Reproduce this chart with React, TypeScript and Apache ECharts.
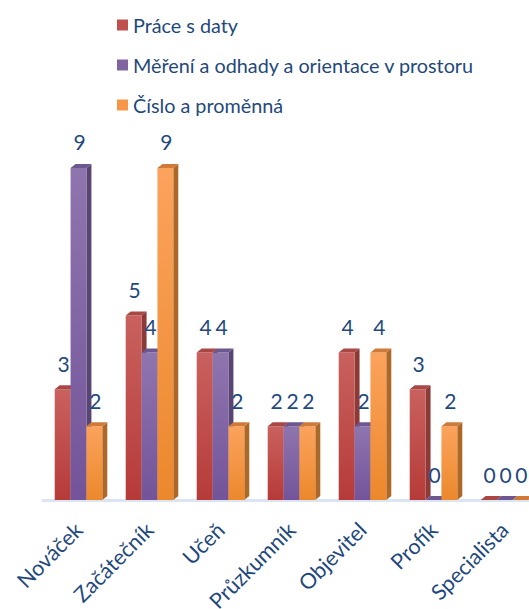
import React, { useEffect, useRef } from "react";
import * as echarts from "echarts";

const categories = ["Nováček", "Začátečník", "Učeň", "Průzkumník", "Objevitel", "Profík", "Specialista"];
const seriesNames = ["Práce s daty", "Měření a odhady a orientace v prostoru", "Číslo a proměnná"];
const praceSDaty = [3, 5, 4, 2, 4, 3, 0];
const mereni = [9, 4, 4, 2, 2, 0, 0];
const cisloAPromenna = [2, 9, 2, 2, 4, 2, 0];

const palette = [
  { top: "#c9615e", bottom: "#b63b38", side: "#8c3a37", cap: "#a84744", legend: "#c0504d" },
  { top: "#8f75ae", bottom: "#73549a", side: "#594574", cap: "#6d5790", legend: "#8064a2" },
  { top: "#fba35d", bottom: "#ec882c", side: "#ad6828", cap: "#cf7a38", legend: "#f79646" },
];

const TEXT = "#1f497d";
const FONT = "Lato, 'Open Sans', sans-serif";

export default function App() {
  const ref = useRef<HTMLDivElement>(null);
  useEffect(() => {
    if (!ref.current) return;
    const chart = echarts.init(ref.current, null, { renderer: "svg" });
    const all = [praceSDaty, mereni, cisloAPromenna];
    const dx = 5;
    const dy = 4;
    const makeSeries = (idx: number) => ({
      type: "custom",
      name: seriesNames[idx],
      itemStyle: { color: palette[idx].legend },
      encode: { x: 0, y: 1 },
      data: all[idx].map((v, i) => [i, v]),
      renderItem: (params: any, api: any) => {
        const c = api.value(0);
        const v = api.value(1);
        const base = api.coord([c, 0]);
        const top = api.coord([c, v]);
        const band = api.size([1, 0])[0];
        const barW = (band * 0.67) / 3;
        const x0 = base[0] - 1.5 * barW + idx * barW;
        const x1 = x0 + barW;
        const p = palette[idx];
        return {
          type: "group",
          children: [
            {
              type: "polygon",
              shape: {
                points: [
                  [x1, top[1]],
                  [x1 + dx, top[1] - dy],
                  [x1 + dx, base[1] - dy],
                  [x1, base[1]],
                ],
              },
              style: { fill: p.side },
            },
            {
              type: "rect",
              shape: { x: x0, y: top[1], width: barW, height: base[1] - top[1] },
              style: {
                fill: new echarts.graphic.LinearGradient(0, 0, 0, 1, [
                  { offset: 0, color: p.top },
                  { offset: 1, color: p.bottom },
                ]),
              },
            },
            {
              type: "polygon",
              shape: {
                points: [
                  [x0, top[1]],
                  [x0 + dx, top[1] - dy],
                  [x1 + dx, top[1] - dy],
                  [x1, top[1]],
                ],
              },
              style: { fill: p.cap },
            },
            {
              type: "text",
              z2: 100,
              style: {
                x: x0 + barW / 2 + 1,
                y: top[1] - 26,
                text: String(v),
                fill: TEXT,
                fontSize: 21,
                fontFamily: FONT,
                align: "center",
                verticalAlign: "middle",
              },
            },
          ],
        };
      },
    });

    chart.setOption({
      animation: false,
      textStyle: { fontFamily: FONT },
      legend: {
        orient: "vertical",
        left: 112,
        top: 10,
        itemWidth: 11,
        itemHeight: 11,
        itemGap: 20,
        icon: "rect",
        textStyle: { fontSize: 19.8, color: TEXT, fontFamily: FONT },
        data: seriesNames,
      },
      grid: {
        left: 43,
        width: 497,
        top: 131,
        bottom: 109,
        containLabel: false,
        outerBoundsMode: "none",
      },
      xAxis: {
        type: "category",
        data: categories,
        axisLine: { show: true, lineStyle: { color: "#dbe5f1", width: 3 } },
        axisTick: { show: false },
        axisLabel: {
          interval: 0,
          rotate: 45,
          margin: 26,
          fontSize: 21.5,
          color: TEXT,
          fontFamily: FONT,
          hideOverlap: false,
        },
      },
      yAxis: {
        type: "value",
        min: 0,
        max: 10,
        show: false,
        splitLine: { show: false },
      },
      series: [makeSeries(0), makeSeries(1), makeSeries(2)],
    });
    return () => chart.dispose();
  }, []);
  return (
    <div
      ref={ref}
      style={{ position: "absolute", left: 0, top: 0, width: 529, height: 609, background: "#fff" }}
    />
  );
}
